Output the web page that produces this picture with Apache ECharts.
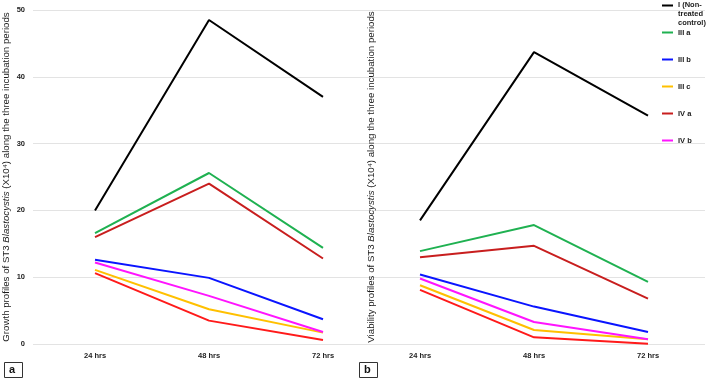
<!DOCTYPE html>
<html>
<head>
<meta charset="utf-8">
<script src="https://cdn.jsdelivr.net/npm/echarts@6/dist/echarts.min.js"></script>
<style>
  html, body { margin: 0; padding: 0; background: #fff; }
  #chart { width: 707px; height: 378px; }
</style>
</head>
<body>
<div id="chart"></div>
<script>
// incubation periods
var hours = ['24 hrs', '48 hrs', '72 hrs']
var yTicks = [0, 10, 20, 30, 40, 50]

// groups (last one has no legend entry in the original)
var groups = ['I (Non-treated control)', 'III a', 'III b', 'III c', 'IV a', 'IV b', 'Unlabelled']
var groupColors = ['#000000', '#1fb151', '#0a14ff', '#ffc000', '#c81e1e', '#ff14ff', '#ff1a1a']

// panel a: growth profiles
var growthI = [20.0, 48.5, 37.0]
var growthIIIa = [16.6, 25.6, 14.4]
var growthIIIb = [12.6, 9.9, 3.7]
var growthIIIc = [11.1, 5.2, 1.7]
var growthIVa = [16.0, 24.0, 12.8]
var growthIVb = [12.2, 7.2, 1.8]
var growthOther = [10.6, 3.5, 0.6]

// panel b: viability profiles
var viabI = [18.5, 43.7, 34.2]
var viabIIIa = [13.9, 17.8, 9.3]
var viabIIIb = [10.4, 5.6, 1.8]
var viabIIIc = [8.8, 2.1, 0.7]
var viabIVa = [13.0, 14.7, 6.8]
var viabIVb = [9.8, 3.3, 0.7]
var viabOther = [8.1, 1.0, 0.05]

var growth = [growthI, growthIIIa, growthIIIb, growthIIIc, growthIVa, growthIVb, growthOther]
var viab = [viabI, viabIIIa, viabIIIb, viabIIIc, viabIVa, viabIVb, viabOther]

var narrow = "'Liberation Sans Narrow', 'Arial Narrow', 'Liberation Sans', sans-serif"
var plain = "'Liberation Sans', Arial, sans-serif"

function pts (arr) {
  var out = []
  for (var i = 0; i < arr.length; i++) out.push([i, arr[i]])
  return out
}

function xAxisFor (idx, min, max) {
  return {
    type: 'value',
    gridIndex: idx,
    min: min,
    max: max,
    axisLine: {show: false},
    axisTick: {show: false},
    splitLine: {show: false},
    axisLabel: {
      customValues: [0, 1, 2],
      formatter: function (v) { return hours[Math.round(v)] },
      color: '#222',
      fontFamily: narrow,
      fontWeight: 'bold',
      fontSize: 7.5,
      margin: 8
    }
  }
}

function yAxisFor (idx, title, showLabels, gap) {
  return {
    type: 'value',
    gridIndex: idx,
    min: yTicks[0],
    max: yTicks[yTicks.length - 1],
    interval: 10,
    axisLine: {show: false},
    axisTick: {show: false},
    splitLine: {lineStyle: {color: '#e3e3e3', width: 1}},
    axisLabel: {
      show: showLabels,
      color: '#222',
      fontFamily: narrow,
      fontWeight: 'bold',
      fontSize: 7.5,
      margin: 8
    },
    name: '{n|' + title + ' of ST3 }{i|Blastocystis}{n| (X10⁴) along the three incubation periods}',
    nameLocation: 'middle',
    nameRotate: 90,
    nameGap: gap,
    nameTextStyle: {
      rich: {
        n: {fontFamily: plain, fontSize: 9.7, color: '#1a1a1a'},
        i: {fontFamily: plain, fontSize: 9.7, color: '#1a1a1a', fontStyle: 'italic'}
      }
    }
  }
}

var series = []
for (var g = 0; g < groups.length; g++) {
  series.push({
    name: groups[g], type: 'line', xAxisIndex: 0, yAxisIndex: 0,
    data: pts(growth[g]), symbol: 'none', color: groupColors[g],
    lineStyle: {width: 2}
  })
  series.push({
    name: groups[g], type: 'line', xAxisIndex: 1, yAxisIndex: 1,
    data: pts(viab[g]), symbol: 'none', color: groupColors[g],
    lineStyle: {width: 2}
  })
}

var legendText = {color: '#1a1a1a', fontFamily: narrow, fontWeight: 'bold', fontSize: 7.5, lineHeight: 9}

var chart = echarts.init(document.getElementById('chart'))
chart.setOption({
  animation: false,
  backgroundColor: '#fff',
  grid: [
    {left: 33, top: 10, width: 325, height: 334},
    {left: 358, top: 10, width: 347, height: 334}
  ],
  xAxis: [xAxisFor(0, -0.544, 2.307), xAxisFor(1, -0.544, 2.5)],
  yAxis: [yAxisFor(0, 'Growth profiles', true, 22), yAxisFor(1, 'Viability profiles', false, -18)],
  legend: [
    {
      // bar kept at the top of a taller icon box so it lines up with the first text line
      data: [groups[0]],
      orient: 'vertical', left: 662, top: 0, padding: 0,
      icon: 'path://M0,0H11V2H0Z M0,18L0,18Z', itemWidth: 11, itemHeight: 20, itemGap: 0,
      formatter: function () { return 'I (Non-\ntreated\ncontrol)' },
      textStyle: legendText
    },
    {
      data: groups.slice(1, 6),
      orient: 'vertical', left: 662, top: 28, padding: 0,
      icon: 'rect', itemWidth: 11, itemHeight: 2, itemGap: 18,
      textStyle: legendText
    }
  ],
  graphic: [
    {
      type: 'rect', left: 4, top: 362,
      shape: {width: 18, height: 15},
      style: {fill: '#fff', stroke: '#333', lineWidth: 1}
    },
    {
      type: 'text', left: 9, top: 364,
      style: {text: 'a', font: 'bold 11px ' + plain, fill: '#111'}
    },
    {
      type: 'rect', left: 359, top: 362,
      shape: {width: 18, height: 15},
      style: {fill: '#fff', stroke: '#333', lineWidth: 1}
    },
    {
      type: 'text', left: 364, top: 364,
      style: {text: 'b', font: 'bold 11px ' + plain, fill: '#111'}
    }
  ],
  series: series
})
</script>
</body>
</html>
